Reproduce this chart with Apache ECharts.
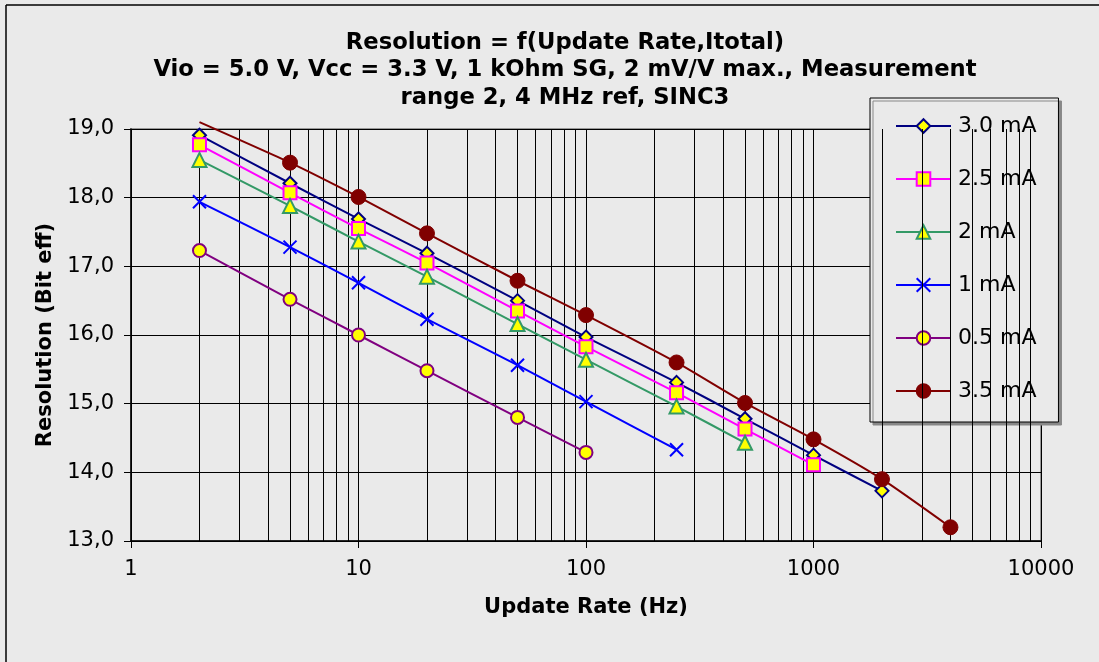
<!DOCTYPE html>
<html>
<head>
<meta charset="utf-8">
<script src="https://cdn.jsdelivr.net/npm/echarts@6/dist/echarts.min.js"></script>
<style>
  html, body { margin: 0; padding: 0; background: #eaeaea; }
  #chart { width: 1099px; height: 662px; }
</style>
</head>
<body>
<div id="chart"></div>
<script>
// update rates (Hz) per curve
const rates30 = [2, 5, 10, 20, 50, 100, 250, 500, 1000, 2000]
const res30 = [18.91, 18.21, 17.69, 17.19, 16.50, 15.97, 15.31, 14.78, 14.25, 13.73]

const rates25 = [2, 5, 10, 20, 50, 100, 250, 500, 1000]
const res25 = [18.77, 18.07, 17.55, 17.05, 16.35, 15.83, 15.16, 14.63, 14.11]

const rates20 = [2, 5, 10, 20, 50, 100, 250, 500]
const res20 = [18.55, 17.88, 17.36, 16.85, 16.16, 15.64, 14.96, 14.43]

const rates10 = [2, 5, 10, 20, 50, 100, 250]
const res10 = [17.94, 17.28, 16.76, 16.23, 15.56, 15.03, 14.33]

const rates05 = [2, 5, 10, 20, 50, 100]
const res05 = [17.23, 16.52, 16.00, 15.48, 14.80, 14.29]

const rates35 = [2, 5, 10, 20, 50, 100, 250, 500, 1000, 2000, 4000]
const res35 = [19.1, 18.51, 18.01, 17.48, 16.79, 16.29, 15.60, 15.01, 14.48, 13.90, 13.20]

const minorTicks = [2, 3, 4, 5, 6, 7, 8, 9, 20, 30, 40, 50, 60, 70, 80, 90,
  200, 300, 400, 500, 600, 700, 800, 900, 2000, 3000, 4000, 5000, 6000, 7000, 8000, 9000]

const font = 'DejaVu Sans, Verdana, sans-serif'
const pair = (xs, ys) => xs.map((x, i) => [x, ys[i]])

const chart = echarts.init(document.getElementById('chart'))

const lineSeries = (name, xs, ys, color, symbol, size, fill, extra) => Object.assign({
  name,
  type: 'line',
  data: pair(xs, ys),
  smooth: 0.2,
  symbol,
  symbolSize: size,
  lineStyle: { color, width: 2 },
  itemStyle: { color: fill, borderColor: color, borderWidth: 2 },
  emphasis: { disabled: true },
  z: 5
}, extra || {})

const data35 = pair(rates35, res35)
data35[0] = { value: data35[0], symbol: 'none' }  // clipped point above the plot

const option = {
  backgroundColor: '#eaeaea',
  animation: false,
  graphic: [
    { type: 'line', shape: { x1: 6, y1: 5, x2: 1099, y2: 5 }, style: { stroke: '#000', lineWidth: 1.5 }, silent: true },
    { type: 'line', shape: { x1: 6, y1: 5, x2: 6, y2: 662 }, style: { stroke: '#000', lineWidth: 1.5 }, silent: true }
  ],
  title: {
    text: 'Resolution = f(Update Rate,Itotal)\nVio = 5.0 V, Vcc = 3.3 V, 1 kOhm SG, 2 mV/V max., Measurement\nrange 2, 4 MHz ref, SINC3',
    left: 560,
    top: 24,
    textAlign: 'center',
    textStyle: { fontFamily: font, fontWeight: 'bold', fontSize: 22.7, lineHeight: 27.5, color: '#000' }
  },
  legend: {
    orient: 'vertical',
    left: 870,
    top: 98,
    width: 190,
    padding: [17, 22, 20, 25],
    itemWidth: 55,
    itemHeight: 17,
    itemGap: 31,
    backgroundColor: '#eaeaea',
    borderColor: '#000',
    borderWidth: 1,
    shadowColor: '#888',
    shadowBlur: 0,
    shadowOffsetX: 3,
    shadowOffsetY: 3,
    textStyle: { fontFamily: font, fontSize: 22, color: '#000', padding: [0, 0, 0, 2] },
    data: ['3.0 mA', '2.5 mA', '2 mA', '1 mA', '0.5 mA', '3.5 mA']
  },
  grid: {
    left: 131, right: 58, top: 129, bottom: 121,
    show: true,
    borderColor: '#999',
    borderWidth: 2,
    backgroundColor: 'transparent'
  },
  xAxis: {
    type: 'log',
    logBase: 10,
    min: 1,
    max: 10000,
    name: 'Update Rate (Hz)',
    nameLocation: 'middle',
    nameGap: 56,
    nameTextStyle: { fontFamily: font, fontWeight: 'bold', fontSize: 21, color: '#000' },
    axisLine: { lineStyle: { color: '#000', width: 1.5 } },
    axisTick: { show: true, inside: false, length: 7, lineStyle: { color: '#000' } },
    axisLabel: { fontFamily: font, fontSize: 21, color: '#000', margin: 18, formatter: (v) => String(v) },
    splitLine: { show: true, lineStyle: { color: '#000', width: 1 } }
  },
  yAxis: {
    type: 'value',
    min: 13,
    max: 19,
    interval: 1,
    name: 'Resolution (Bit eff)',
    nameLocation: 'middle',
    nameGap: 75,
    nameTextStyle: { fontFamily: font, fontWeight: 'bold', fontSize: 21, color: '#000' },
    axisLine: { show: true, lineStyle: { color: '#000', width: 1.5 } },
    axisTick: { show: true, inside: false, length: 7, lineStyle: { color: '#000' } },
    axisLabel: {
      fontFamily: font, fontSize: 21, color: '#000', margin: 17,
      formatter: (v) => v.toFixed(1).replace('.', ',')
    },
    splitLine: { show: true, lineStyle: { color: '#000', width: 1 } }
  },
  series: [
    {
      type: 'line',
      data: [],
      silent: true,
      markLine: {
        silent: true,
        symbol: 'none',
        label: { show: false },
        lineStyle: { color: '#000', width: 1, type: 'solid' },
        data: minorTicks.map((v) => ({ xAxis: v }))
      }
    },
    lineSeries('3.0 mA', rates30, res30, '#000080', 'diamond', 13, '#ffff00'),
    lineSeries('2.5 mA', rates25, res25, '#ff00ff', 'rect', 13, '#ffff00'),
    lineSeries('2 mA', rates20, res20, '#339966', 'triangle', 14, '#ffff00'),
    lineSeries('1 mA', rates10, res10, '#0000ff', 'path://M0,0L10,10M10,0L0,10', 13, 'none'),
    lineSeries('0.5 mA', rates05, res05, '#800080', 'circle', 13, '#ffff00'),
    lineSeries('3.5 mA', rates35, res35, '#800000', 'circle', 15, '#800000', {
      data: data35,
      clip: false,
      itemStyle: { color: '#800000', borderColor: '#800000', borderWidth: 1 }
    })
  ]
}

chart.setOption(option)
</script>
</body>
</html>
